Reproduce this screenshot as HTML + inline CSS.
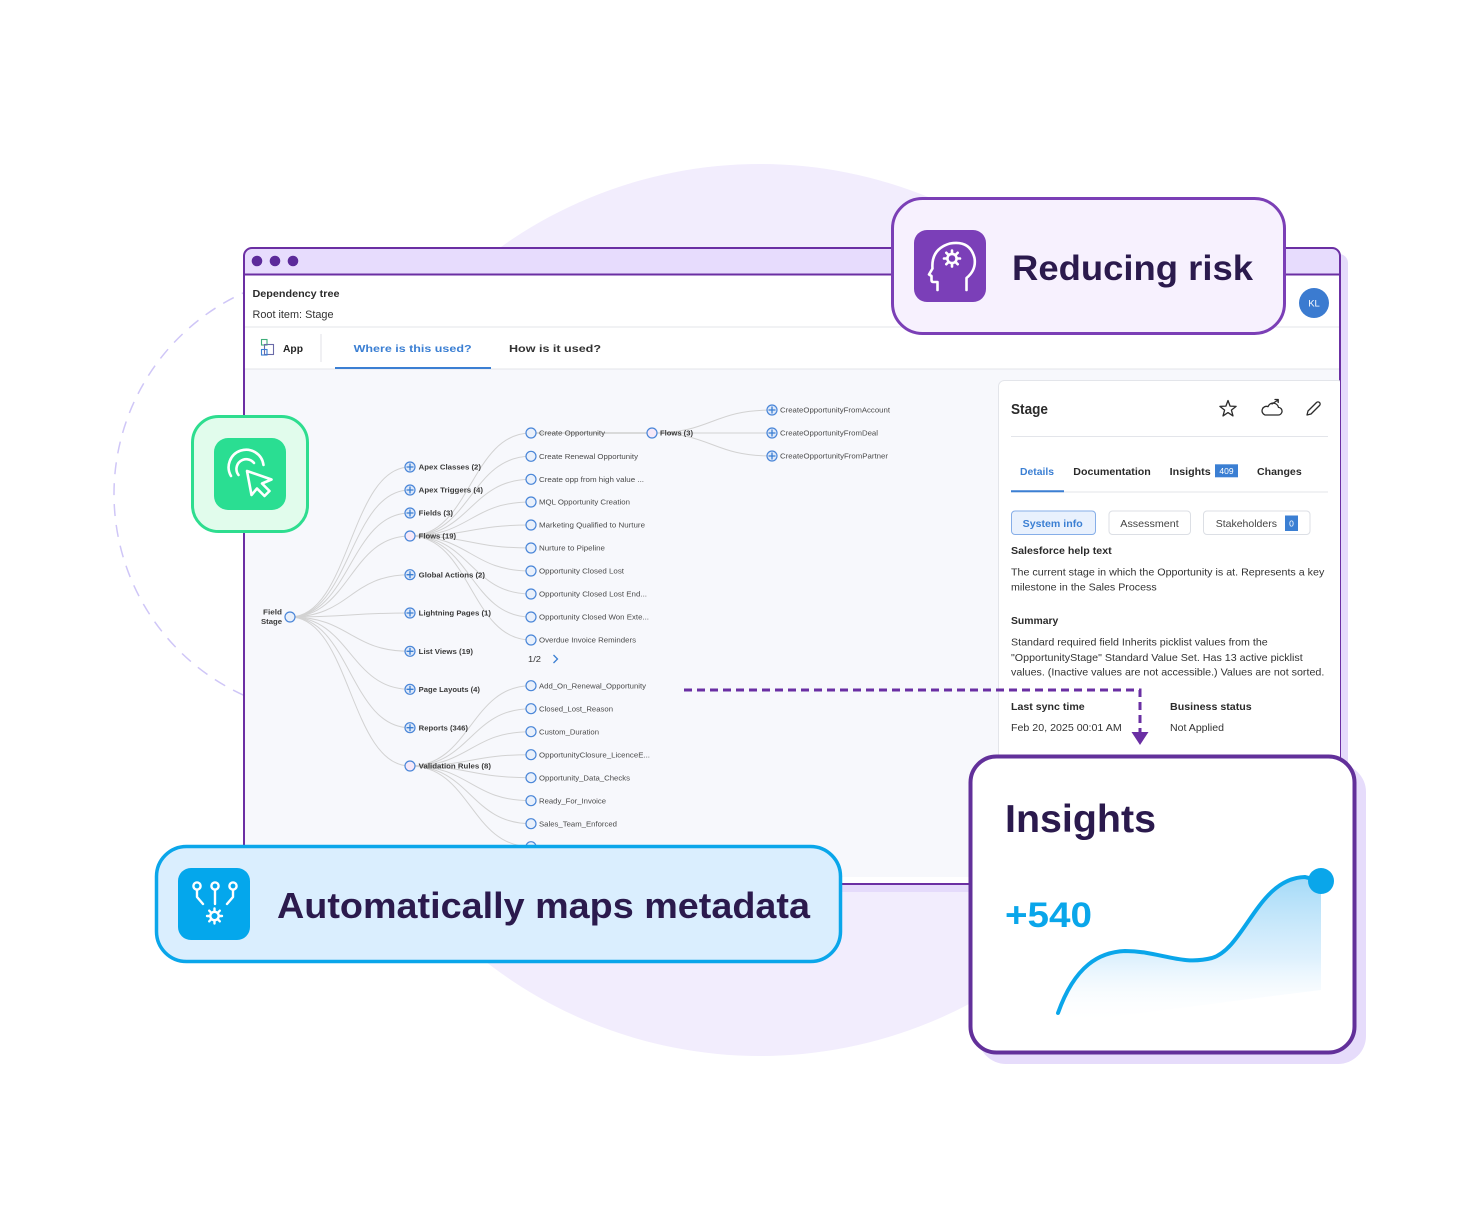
<!DOCTYPE html>
<html>
<head>
<meta charset="utf-8">
<style>
  html,body{margin:0;padding:0;background:#ffffff;}
  svg{display:block;}
  text{font-family:"Liberation Sans", Arial, sans-serif;}
</style>
</head>
<body>
<svg width="1460" height="1220" viewBox="0 0 1460 1220" xmlns="http://www.w3.org/2000/svg">
  <defs>
    <clipPath id="winclip">
      <rect x="244" y="248" width="1096" height="636" rx="8"/>
    </clipPath>
    <linearGradient id="chartfill" x1="0" y1="0" x2="0" y2="1">
      <stop offset="0" stop-color="#9fd8f7" stop-opacity="0.95"/>
      <stop offset="0.55" stop-color="#cfeafc" stop-opacity="0.7"/>
      <stop offset="1" stop-color="#ffffff" stop-opacity="0"/>
    </linearGradient>
  </defs>

  <!-- background lavender circle -->
  <circle cx="760" cy="610" r="446" fill="#f2edfd"/>
  <!-- dashed circle -->
  <circle cx="335" cy="494" r="221" fill="none" stroke="#cfc6f7" stroke-width="1.5" stroke-dasharray="12 9"/>

  <!-- window shadow -->
  <rect x="250" y="254" width="1098" height="638" rx="9" fill="#e5dbfb"/>
  <!-- window -->
  <rect x="244" y="248" width="1096" height="636" rx="8" fill="#ffffff"/>
  <g clip-path="url(#winclip)">
    <rect x="244" y="248" width="1096" height="27" fill="#e7dcfd"/>
    <line x1="244" y1="274.5" x2="1340" y2="274.5" stroke="#6b2fa3" stroke-width="2"/>
    <!-- canvas -->
    <rect x="244" y="369" width="1096" height="508" fill="#f7f8fc"/>
    <line x1="244" y1="327" x2="1340" y2="327" stroke="#e3e5ea" stroke-width="1"/>
    <line x1="244" y1="369" x2="1340" y2="369" stroke="#e3e5ea" stroke-width="1"/>
  </g>
  <rect x="244" y="248" width="1096" height="636" rx="8" fill="none" stroke="#6b2fa3" stroke-width="2"/>
  <!-- dots -->
  <circle cx="257" cy="261" r="5.3" fill="#5c2a9a"/>
  <circle cx="275" cy="261" r="5.3" fill="#5c2a9a"/>
  <circle cx="293" cy="261" r="5.3" fill="#5c2a9a"/>

  <!-- header -->
  <text x="252.5" y="297" font-size="10.5" font-weight="bold" fill="#2b2b2b" textLength="87" lengthAdjust="spacingAndGlyphs">Dependency tree</text>
  <text x="252.5" y="318" font-size="11" fill="#333" textLength="81" lengthAdjust="spacingAndGlyphs">Root item: Stage</text>
  <!-- KL avatar -->
  <circle cx="1314" cy="303" r="15" fill="#3b7bd0"/>
  <text x="1314" y="306.5" font-size="9.5" fill="#ffffff" text-anchor="middle">KL</text>

  <!-- tab bar -->
  <g fill="none" stroke-width="1.1">
    <rect x="261.5" y="339.5" width="5.5" height="5.5" stroke="#3fae7a"/>
    <rect x="264.5" y="344.5" width="9" height="10" stroke="#6a6aa8"/>
    <rect x="261.5" y="349.5" width="5.5" height="5.5" stroke="#3b7fd3"/>
  </g>
  <text x="283" y="352" font-size="10.5" font-weight="bold" fill="#222" textLength="20" lengthAdjust="spacingAndGlyphs">App</text>
  <line x1="321" y1="334" x2="321" y2="362" stroke="#e5e7eb" stroke-width="1.2"/>
  <text x="353.6" y="352" font-size="10" font-weight="bold" fill="#3b7fd3" textLength="118" lengthAdjust="spacingAndGlyphs">Where is this used?</text>
  <line x1="335" y1="368" x2="491" y2="368" stroke="#3b7fd3" stroke-width="2"/>
  <text x="509" y="352" font-size="10" font-weight="bold" fill="#333" textLength="92" lengthAdjust="spacingAndGlyphs">How is it used?</text>

  <!-- TREE EDGES -->
  <g fill="none" stroke="#d2d2d2" stroke-width="1">
    <!-- root to level1 -->
    <path d="M290,617 C350,617 350,467 410,467"/>
    <path d="M290,617 C350,617 350,490 410,490"/>
    <path d="M290,617 C350,617 350,513 410,513"/>
    <path d="M290,617 C350,617 350,536 410,536"/>
    <path d="M290,617 C350,617 350,574.7 410,574.7"/>
    <path d="M290,617 C350,617 350,613 410,613"/>
    <path d="M290,617 C350,617 350,651.3 410,651.3"/>
    <path d="M290,617 C350,617 350,689.3 410,689.3"/>
    <path d="M290,617 C350,617 350,727.7 410,727.7"/>
    <path d="M290,617 C350,617 350,766 410,766"/>
    <!-- flows(19) to children -->
    <path d="M410,536 C470.5,536 470.5,433 531,433"/>
    <path d="M410,536 C470.5,536 470.5,456.3 531,456.3"/>
    <path d="M410,536 C470.5,536 470.5,479.3 531,479.3"/>
    <path d="M410,536 C470.5,536 470.5,502 531,502"/>
    <path d="M410,536 C470.5,536 470.5,525 531,525"/>
    <path d="M410,536 C470.5,536 470.5,548 531,548"/>
    <path d="M410,536 C470.5,536 470.5,571 531,571"/>
    <path d="M410,536 C470.5,536 470.5,594 531,594"/>
    <path d="M410,536 C470.5,536 470.5,617 531,617"/>
    <path d="M410,536 C470.5,536 470.5,640 531,640"/>
    <!-- validation to children -->
    <path d="M410,766 C470.5,766 470.5,685.7 531,685.7"/>
    <path d="M410,766 C470.5,766 470.5,708.7 531,708.7"/>
    <path d="M410,766 C470.5,766 470.5,731.7 531,731.7"/>
    <path d="M410,766 C470.5,766 470.5,754.7 531,754.7"/>
    <path d="M410,766 C470.5,766 470.5,777.7 531,777.7"/>
    <path d="M410,766 C470.5,766 470.5,800.7 531,800.7"/>
    <path d="M410,766 C470.5,766 470.5,823.7 531,823.7"/>
    <path d="M410,766 C470.5,766 470.5,846.7 531,846.7"/>
    <!-- create opp to flows(3) -->
    <path d="M531,433 L652,433" stroke="#cfcfcf" stroke-width="1.4"/>
    <path d="M652,433 C712,433 712,410 772,410"/>
    <path d="M652,433 L772,433"/>
    <path d="M652,433 C712,433 712,456 772,456"/>
  </g>

  <!-- TREE NODES -->
  <g stroke="#4a86d8" stroke-width="1.2">
    <circle cx="290" cy="617" r="5" fill="#e9f0fb"/>
    <!-- level1 -->
    <circle cx="410" cy="467" r="5" fill="#dfe9f9"/>
    <circle cx="410" cy="490" r="5" fill="#dfe9f9"/>
    <circle cx="410" cy="513" r="5" fill="#dfe9f9"/>
    <circle cx="410" cy="536" r="5" fill="#f6e8f8"/>
    <circle cx="410" cy="574.7" r="5" fill="#dfe9f9"/>
    <circle cx="410" cy="613" r="5" fill="#dfe9f9"/>
    <circle cx="410" cy="651.3" r="5" fill="#dfe9f9"/>
    <circle cx="410" cy="689.3" r="5" fill="#dfe9f9"/>
    <circle cx="410" cy="727.7" r="5" fill="#dfe9f9"/>
    <circle cx="410" cy="766" r="5" fill="#f6e8f8"/>
    <!-- level2 flows -->
    <circle cx="531" cy="433" r="5" fill="#e9f0fb"/>
    <circle cx="531" cy="456.3" r="5" fill="#e9f0fb"/>
    <circle cx="531" cy="479.3" r="5" fill="#e9f0fb"/>
    <circle cx="531" cy="502" r="5" fill="#e9f0fb"/>
    <circle cx="531" cy="525" r="5" fill="#e9f0fb"/>
    <circle cx="531" cy="548" r="5" fill="#e9f0fb"/>
    <circle cx="531" cy="571" r="5" fill="#e9f0fb"/>
    <circle cx="531" cy="594" r="5" fill="#e9f0fb"/>
    <circle cx="531" cy="617" r="5" fill="#e9f0fb"/>
    <circle cx="531" cy="640" r="5" fill="#e9f0fb"/>
    <!-- level2 validation -->
    <circle cx="531" cy="685.7" r="5" fill="#e9f0fb"/>
    <circle cx="531" cy="708.7" r="5" fill="#e9f0fb"/>
    <circle cx="531" cy="731.7" r="5" fill="#e9f0fb"/>
    <circle cx="531" cy="754.7" r="5" fill="#e9f0fb"/>
    <circle cx="531" cy="777.7" r="5" fill="#e9f0fb"/>
    <circle cx="531" cy="800.7" r="5" fill="#e9f0fb"/>
    <circle cx="531" cy="823.7" r="5" fill="#e9f0fb"/>
    <circle cx="531" cy="846.7" r="5" fill="#e9f0fb"/>
    <!-- flows(3) -->
    <circle cx="652" cy="433" r="5" fill="#f6e8f8"/>
    <circle cx="772" cy="410" r="5" fill="#dfe9f9"/>
    <circle cx="772" cy="433" r="5" fill="#dfe9f9"/>
    <circle cx="772" cy="456" r="5" fill="#dfe9f9"/>
  </g>
  <!-- plus signs -->
  <g stroke="#3b7fd3" stroke-width="1.3" fill="none">
    <path d="M406.5,467h7M410,463.5v7"/>
    <path d="M406.5,490h7M410,486.5v7"/>
    <path d="M406.5,513h7M410,509.5v7"/>
    <path d="M406.5,574.7h7M410,571.2v7"/>
    <path d="M406.5,613h7M410,609.5v7"/>
    <path d="M406.5,651.3h7M410,647.8v7"/>
    <path d="M406.5,689.3h7M410,685.8v7"/>
    <path d="M406.5,727.7h7M410,724.2v7"/>
    <path d="M768.5,410h7M772,406.5v7"/>
    <path d="M768.5,433h7M772,429.5v7"/>
    <path d="M768.5,456h7M772,452.5v7"/>
  </g>

  <!-- TREE LABELS -->
  <g font-size="7" font-weight="bold" fill="#3a3a3a">
    <text x="263" y="614.5" textLength="19" lengthAdjust="spacingAndGlyphs">Field</text>
    <text x="261" y="624" textLength="21" lengthAdjust="spacingAndGlyphs">Stage</text>
    <text x="418.7" y="469.7" textLength="62.3" lengthAdjust="spacingAndGlyphs">Apex Classes (2)</text>
    <text x="418.7" y="492.7" textLength="64.3" lengthAdjust="spacingAndGlyphs">Apex Triggers (4)</text>
    <text x="418.7" y="515.7" textLength="34.3" lengthAdjust="spacingAndGlyphs">Fields (3)</text>
    <text x="418.7" y="538.7" textLength="37.3" lengthAdjust="spacingAndGlyphs">Flows (19)</text>
    <text x="418.7" y="577.4" textLength="66.3" lengthAdjust="spacingAndGlyphs">Global Actions (2)</text>
    <text x="418.7" y="615.7" textLength="72.3" lengthAdjust="spacingAndGlyphs">Lightning Pages (1)</text>
    <text x="418.7" y="654" textLength="54.3" lengthAdjust="spacingAndGlyphs">List Views (19)</text>
    <text x="418.7" y="692" textLength="61.3" lengthAdjust="spacingAndGlyphs">Page Layouts (4)</text>
    <text x="418.7" y="730.4" textLength="49.3" lengthAdjust="spacingAndGlyphs">Reports (346)</text>
    <text x="418.7" y="768.7" textLength="72.3" lengthAdjust="spacingAndGlyphs">Validation Rules (8)</text>
    <text x="660" y="435.7" textLength="33" lengthAdjust="spacingAndGlyphs">Flows (3)</text>
  </g>
  <g font-size="7" fill="#4a4a4a">
    <text x="539" y="435.7" textLength="66" lengthAdjust="spacingAndGlyphs">Create Opportunity</text>
    <text x="539" y="459" textLength="99" lengthAdjust="spacingAndGlyphs">Create Renewal Opportunity</text>
    <text x="539" y="482" textLength="105" lengthAdjust="spacingAndGlyphs">Create opp from high value ...</text>
    <text x="539" y="504.7" textLength="91" lengthAdjust="spacingAndGlyphs">MQL Opportunity Creation</text>
    <text x="539" y="527.7" textLength="106" lengthAdjust="spacingAndGlyphs">Marketing Qualified to Nurture</text>
    <text x="539" y="550.7" textLength="66" lengthAdjust="spacingAndGlyphs">Nurture to Pipeline</text>
    <text x="539" y="573.7" textLength="85" lengthAdjust="spacingAndGlyphs">Opportunity Closed Lost</text>
    <text x="539" y="596.7" textLength="108" lengthAdjust="spacingAndGlyphs">Opportunity Closed Lost End...</text>
    <text x="539" y="619.7" textLength="110" lengthAdjust="spacingAndGlyphs">Opportunity Closed Won Exte...</text>
    <text x="539" y="642.7" textLength="97" lengthAdjust="spacingAndGlyphs">Overdue Invoice Reminders</text>
    <text x="539" y="688.4" textLength="107" lengthAdjust="spacingAndGlyphs">Add_On_Renewal_Opportunity</text>
    <text x="539" y="711.4" textLength="74" lengthAdjust="spacingAndGlyphs">Closed_Lost_Reason</text>
    <text x="539" y="734.4" textLength="60" lengthAdjust="spacingAndGlyphs">Custom_Duration</text>
    <text x="539" y="757.4" textLength="111" lengthAdjust="spacingAndGlyphs">OpportunityClosure_LicenceE...</text>
    <text x="539" y="780.4" textLength="91" lengthAdjust="spacingAndGlyphs">Opportunity_Data_Checks</text>
    <text x="539" y="803.4" textLength="67" lengthAdjust="spacingAndGlyphs">Ready_For_Invoice</text>
    <text x="539" y="826.4" textLength="78" lengthAdjust="spacingAndGlyphs">Sales_Team_Enforced</text>
    <text x="780" y="412.7" textLength="110" lengthAdjust="spacingAndGlyphs">CreateOpportunityFromAccount</text>
    <text x="780" y="435.7" textLength="98" lengthAdjust="spacingAndGlyphs">CreateOpportunityFromDeal</text>
    <text x="780" y="458.7" textLength="108" lengthAdjust="spacingAndGlyphs">CreateOpportunityFromPartner</text>
  </g>
  <text x="528" y="662" font-size="8" fill="#333" textLength="13" lengthAdjust="spacingAndGlyphs">1/2</text>
  <polyline points="553.5,655 557.5,659 553.5,663" fill="none" stroke="#3b7fd3" stroke-width="1.3"/>

  <!-- RIGHT PANEL -->
  <g clip-path="url(#winclip)">
    <rect x="998.5" y="380.5" width="345" height="440" rx="6" fill="#ffffff" stroke="#e3e5ea" stroke-width="1"/>
  </g>
  <text x="1011" y="414" font-size="14.5" font-weight="bold" fill="#2b2b2b" textLength="37" lengthAdjust="spacingAndGlyphs">Stage</text>
  <!-- star -->
  <polygon points="1228,400.5 1230.1,406.1 1236.1,406.4 1231.4,410.1 1233,415.9 1228,412.6 1223,415.9 1224.6,410.1 1219.9,406.4 1225.9,406.1" fill="none" stroke="#2b2b2b" stroke-width="1.3" stroke-linejoin="round"/>
  <!-- cloud -->
  <g fill="none" stroke="#2b2b2b" stroke-width="1.3" stroke-linecap="round" stroke-linejoin="round">
    <path d="M1265,415 h13 a3.8,3.8 0 0 0 0.5,-7.6 a5.5,5.5 0 0 0 -10.5,-0.8 a4.2,4.2 0 0 0 -3,8.4 z"/>
    <path d="M1272,404 l6,-4 M1275,399.5 h3.2 v3"/>
  </g>
  <!-- pencil -->
  <g fill="none" stroke="#2b2b2b" stroke-width="1.3" stroke-linejoin="round">
    <path d="M1307,415 l1,-4 l8.5,-8.5 a2.1,2.1 0 0 1 3,3 l-8.5,8.5 z"/>
  </g>
  <line x1="1011" y1="436.5" x2="1328" y2="436.5" stroke="#e3e5ea" stroke-width="1"/>
  <!-- panel tabs -->
  <text x="1020" y="475" font-size="10.5" font-weight="bold" fill="#3b7fd3" textLength="34" lengthAdjust="spacingAndGlyphs">Details</text>
  <text x="1073.3" y="475" font-size="10.5" font-weight="bold" fill="#2b2b2b" textLength="77.5" lengthAdjust="spacingAndGlyphs">Documentation</text>
  <text x="1169.7" y="475" font-size="10.5" font-weight="bold" fill="#2b2b2b" textLength="41" lengthAdjust="spacingAndGlyphs">Insights</text>
  <rect x="1215" y="464.3" width="23" height="13" fill="#3b7fd3"/>
  <text x="1226.5" y="474" font-size="8.5" fill="#ffffff" text-anchor="middle">409</text>
  <text x="1257" y="475" font-size="10.5" font-weight="bold" fill="#2b2b2b" textLength="44.7" lengthAdjust="spacingAndGlyphs">Changes</text>
  <line x1="1011" y1="492" x2="1328" y2="492" stroke="#e3e5ea" stroke-width="1"/>
  <line x1="1011" y1="491.3" x2="1064" y2="491.3" stroke="#3b7fd3" stroke-width="2"/>
  <!-- buttons -->
  <rect x="1011.5" y="511" width="84" height="23.5" rx="3.5" fill="#e9f1fd" stroke="#86aee8" stroke-width="1"/>
  <text x="1022.7" y="527" font-size="10.5" fill="#3b7fd3" font-weight="bold" textLength="60" lengthAdjust="spacingAndGlyphs">System info</text>
  <rect x="1109" y="511" width="81.5" height="23.5" rx="3.5" fill="#ffffff" stroke="#dcdfe5" stroke-width="1"/>
  <text x="1120.3" y="527" font-size="10.5" fill="#444" textLength="58.4" lengthAdjust="spacingAndGlyphs">Assessment</text>
  <rect x="1203.5" y="511" width="106.5" height="23.5" rx="3.5" fill="#ffffff" stroke="#dcdfe5" stroke-width="1"/>
  <text x="1215.7" y="527" font-size="10.5" fill="#444" textLength="61.3" lengthAdjust="spacingAndGlyphs">Stakeholders</text>
  <rect x="1285" y="515.5" width="13" height="15.5" fill="#3b7fd3"/>
  <text x="1291.5" y="526.5" font-size="8.5" fill="#ffffff" text-anchor="middle">0</text>
  <!-- details text -->
  <text x="1011" y="554" font-size="10.5" font-weight="bold" fill="#2b2b2b" textLength="100.7" lengthAdjust="spacingAndGlyphs">Salesforce help text</text>
  <text x="1011" y="575.5" font-size="10.5" fill="#333" textLength="313.3" lengthAdjust="spacingAndGlyphs">The current stage in which the Opportunity is at. Represents a key</text>
  <text x="1011" y="590.5" font-size="10.5" fill="#333" textLength="145.7" lengthAdjust="spacingAndGlyphs">milestone in the Sales Process</text>
  <text x="1011" y="624" font-size="10.5" font-weight="bold" fill="#2b2b2b" textLength="47.3" lengthAdjust="spacingAndGlyphs">Summary</text>
  <text x="1011" y="645.5" font-size="10.5" fill="#333" textLength="256.7" lengthAdjust="spacingAndGlyphs">Standard required field Inherits picklist values from the</text>
  <text x="1011" y="661" font-size="10.5" fill="#333" textLength="291.7" lengthAdjust="spacingAndGlyphs">"OpportunityStage" Standard Value Set. Has 13 active picklist</text>
  <text x="1011" y="675.5" font-size="10.5" fill="#333" textLength="313.3" lengthAdjust="spacingAndGlyphs">values. (Inactive values are not accessible.) Values are not sorted.</text>
  <text x="1011" y="710" font-size="10.5" font-weight="bold" fill="#2b2b2b" textLength="73.7" lengthAdjust="spacingAndGlyphs">Last sync time</text>
  <text x="1170" y="710" font-size="10.5" font-weight="bold" fill="#2b2b2b" textLength="81.7" lengthAdjust="spacingAndGlyphs">Business status</text>
  <text x="1011" y="731" font-size="10.5" fill="#333" textLength="110.7" lengthAdjust="spacingAndGlyphs">Feb 20, 2025 00:01 AM</text>
  <text x="1170" y="731" font-size="10.5" fill="#333" textLength="54" lengthAdjust="spacingAndGlyphs">Not Applied</text>

  <!-- dashed connector -->
  <path d="M684,690 H1140 V733" fill="none" stroke="#6a2fa3" stroke-width="3" stroke-dasharray="8 5"/>
  <polygon points="1131.5,732 1148.5,732 1140,745" fill="#6a2fa3"/>

  <!-- GREEN BADGE -->
  <rect x="192.5" y="416.5" width="115" height="115" rx="26" fill="#e1fcec" stroke="#2edd8f" stroke-width="3"/>
  <rect x="214" y="438" width="72" height="72" rx="14" fill="#2ade92"/>
  <g fill="none" stroke="#ffffff" stroke-width="2.6" stroke-linecap="round" stroke-linejoin="round">
    <path d="M231,476 A17.5,17.5 0 1 1 263.5,465"/>
    <path d="M238.5,475 A9.5,9.5 0 1 1 254,463"/>
    <path d="M247,471 L251.5,495 L257,488.5 L264.5,496 L269.5,491 L262,483.5 L271.5,479.5 Z"/>
  </g>

  <!-- REDUCING RISK BADGE -->
  <rect x="892.5" y="198.5" width="392" height="135" rx="30" fill="#f7f1fe" stroke="#7b3fb6" stroke-width="3"/>
  <rect x="914" y="230" width="72" height="72" rx="13" fill="#7b3fb8"/>
  <g fill="none" stroke="#ffffff" stroke-width="2.6" stroke-linecap="round" stroke-linejoin="round">
    <path d="M937.5,290 L937.5,282 L933.5,282 Q931.5,282 931.5,280 L931.5,276 L929,274.5 L932.5,268.5 Q931,249 950,243.5 Q970,240 974.5,258 Q976.5,270 966.5,278 L966.5,290"/>
    <circle cx="952" cy="258.5" r="4.6"/>
    <path d="M952,250.5 v2.5 M952,264 v2.5 M944,258.5 h2.5 M957.5,258.5 h2.5 M946.3,252.8 l1.8,1.8 M955.9,262.4 l1.8,1.8 M946.3,264.2 l1.8,-1.8 M955.9,254.6 l1.8,-1.8"/>
  </g>
  <text x="1012" y="280" font-size="35" font-weight="bold" fill="#2b1a4d" textLength="241" lengthAdjust="spacingAndGlyphs">Reducing risk</text>

  <!-- BOTTOM BADGE -->
  <rect x="156.5" y="846.5" width="684" height="115" rx="30" fill="#daeefe" stroke="#0aa6ea" stroke-width="3.5"/>
  <rect x="178" y="868" width="72" height="72" rx="13" fill="#04a7ec"/>
  <g fill="none" stroke="#ffffff" stroke-width="2.4" stroke-linecap="round" stroke-linejoin="round">
    <circle cx="197" cy="886" r="3.6"/>
    <circle cx="215" cy="886" r="3.6"/>
    <circle cx="233" cy="886" r="3.6"/>
    <path d="M197,890 v7 l6,7"/>
    <path d="M215,890 v14"/>
    <path d="M233,890 v7 l-6,7"/>
    <circle cx="214.5" cy="916" r="4.2"/>
    <path d="M214.5,908.5 v2.2 M214.5,921.3 v2.2 M207,916 h2.2 M219.8,916 h2.2 M209.2,910.7 l1.6,1.6 M218.2,919.7 l1.6,1.6 M209.2,921.3 l1.6,-1.6 M218.2,912.3 l1.6,-1.6"/>
  </g>
  <text x="277" y="918" font-size="36" font-weight="bold" fill="#2b1a4d" textLength="533" lengthAdjust="spacingAndGlyphs">Automatically maps metadata</text>

  <!-- INSIGHTS CARD -->
  <rect x="978" y="764" width="388" height="300" rx="28" fill="#e6dcfb"/>
  <rect x="970.5" y="756.5" width="384" height="296" rx="26" fill="#ffffff" stroke="#62309a" stroke-width="4"/>
  <text x="1005" y="832" font-size="39" font-weight="bold" fill="#2b1a4d" textLength="151" lengthAdjust="spacingAndGlyphs">Insights</text>
  <text x="1005" y="927" font-size="35" font-weight="bold" fill="#0aa6ea" textLength="87" lengthAdjust="spacingAndGlyphs">+540</text>
  <path d="M1058,1013 C1075,965 1100,952 1125,951 C1160,951 1180,966 1212,958 C1245,948 1258,878 1305,877 L1321,881 L1321,990 Q1200,1005 1062,1024 Z" fill="url(#chartfill)"/>
  <path d="M1058,1013 C1075,965 1100,952 1125,951 C1160,951 1180,966 1212,958 C1245,948 1258,878 1305,877 L1321,881" fill="none" stroke="#0aa6ea" stroke-width="4" stroke-linecap="round"/>
  <circle cx="1321" cy="881" r="13" fill="#0aa6ea"/>
</svg>
</body>
</html>
